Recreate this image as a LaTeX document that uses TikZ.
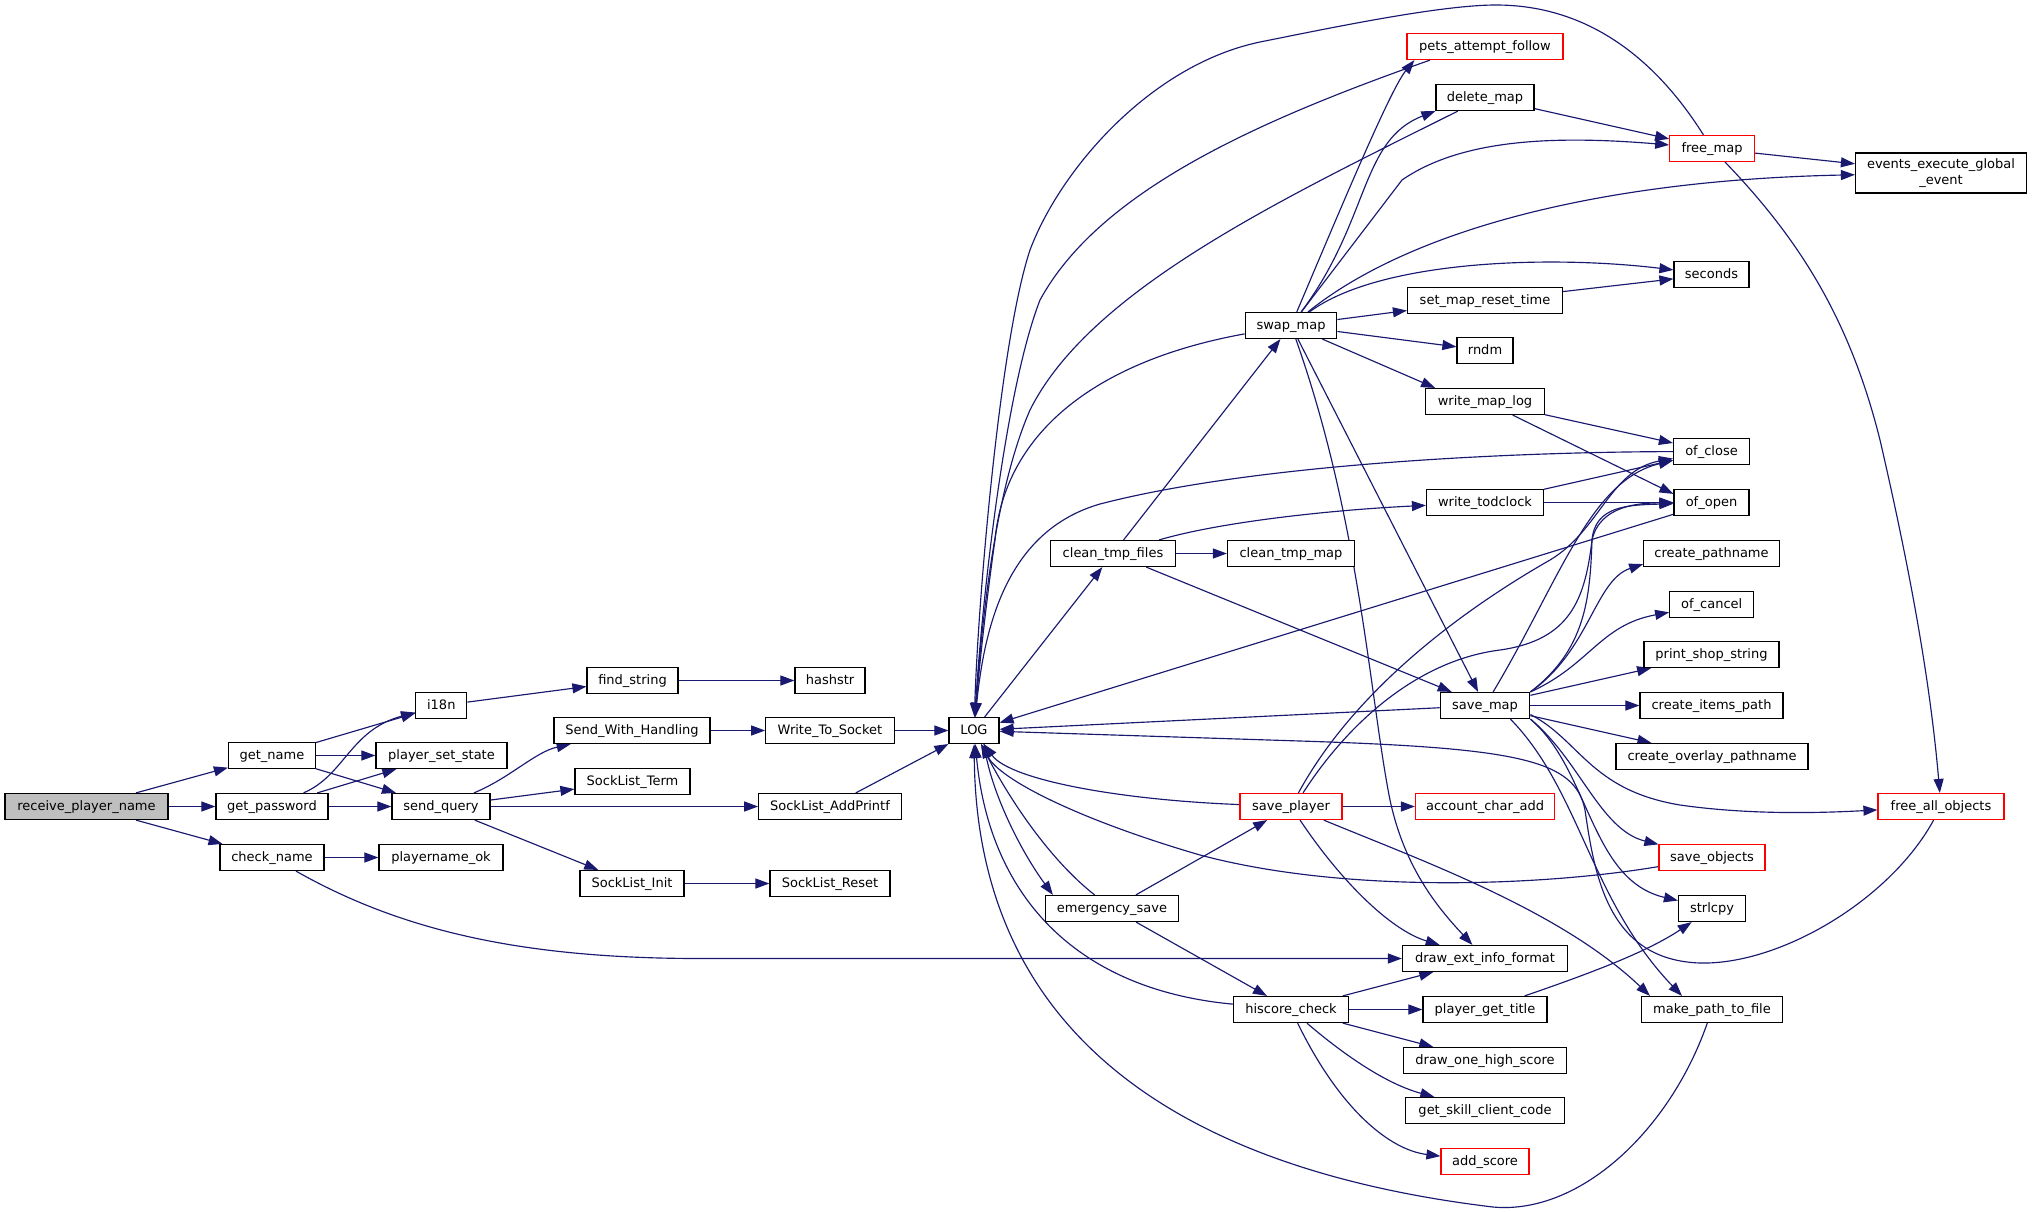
\documentclass[tikz,border=0pt]{standalone}
\usepackage{fontspec}
\setmainfont{DejaVu Sans}
\usetikzlibrary{arrows.meta,backgrounds}
\definecolor{edgec}{HTML}{191970}
\definecolor{rootfill}{HTML}{BFBFBF}
\tikzset{
  nd/.style={draw=black, line width=1.2pt, rectangle, inner sep=0pt, minimum height=26pt,
    font=\fontsize{13}{15.5}\selectfont, fill=white, text height=10pt, text depth=3pt},
  rnd/.style={nd, draw=red},
  edg/.style={draw=edgec, line width=1.15pt, -{Triangle[length=14pt,width=10pt]}}
}
\begin{document}
\begin{tikzpicture}[x=1pt,y=-1pt]
\useasboundingbox (0,0) rectangle (2032,1211);
% nodes
\node[nd, fill=rootfill, minimum width=163pt] (rpn) at (86.5,806.5) {receive\_player\_name};
\node[nd, minimum width=87pt] (getname) at (272,755.5) {get\_name};
\node[nd, minimum width=112pt] (getpw) at (272,806.5) {get\_password};
\node[nd, minimum width=104pt] (checkname) at (272,857.5) {check\_name};
\node[nd, minimum width=51pt] (ieighteen) at (441.3,705.5) {i18n};
\node[nd, minimum width=131pt] (pss) at (441.5,755.5) {player\_set\_state};
\node[nd, minimum width=98pt] (sendq) at (441,806.5) {send\_query};
\node[nd, minimum width=124pt] (pnok) at (441,857.5) {playername\_ok};
\node[nd, minimum width=91pt] (findstr) at (632.5,680.5) {find\_string};
\node[nd, minimum width=70pt] (hashstr) at (830,680.5) {hashstr};
\node[nd, minimum width=156pt] (swh) at (632,730.5) {Send\_With\_Handling};
\node[nd, minimum width=115pt] (slterm) at (632.5,781.5) {SockList\_Term};
\node[nd, minimum width=104pt] (slinit) at (632,883.5) {SockList\_Init};
\node[nd, minimum width=128.5pt] (wts) at (830,730.5) {Write\_To\_Socket};
\node[nd, minimum width=142.5pt] (sladd) at (830,806.5) {SockList\_AddPrintf};
\node[nd, minimum width=120pt] (slreset) at (830,883.5) {SockList\_Reset};
\node[nd, minimum width=50pt] (LOG) at (974,730.5) {LOG};
\node[nd, minimum width=124.5pt] (cleantmp) at (1113,553.5) {clean\_tmp\_files};
\node[nd, minimum width=127pt] (cleantmpmap) at (1291,553.5) {clean\_tmp\_map};
\node[nd, minimum width=133pt] (emerg) at (1112,908.5) {emergency\_save};
\node[nd, minimum width=91.5pt] (swap) at (1291,325.5) {swap\_map};
\node[rnd, minimum width=102pt] (saveplayer) at (1291,806.5) {save\_player};
\node[nd, minimum width=115pt] (hiscore) at (1291,1009.5) {hiscore\_check};
\node[rnd, minimum width=156pt] (pets) at (1485,46.5) {pets\_attempt\_follow};
\node[nd, minimum width=98pt] (delmap) at (1485,97.5) {delete\_map};
\node[nd, minimum width=155pt] (setreset) at (1485,300.5) {set\_map\_reset\_time};
\node[nd, minimum width=56pt] (rndm) at (1485,350.5) {rndm};
\node[nd, minimum width=118.6pt] (writemaplog) at (1485,401.5) {write\_map\_log};
\node[nd, minimum width=117pt] (writetod) at (1485,502.5) {write\_todclock};
\node[nd, minimum width=89.6pt] (savemap) at (1485,705.5) {save\_map};
\node[rnd, minimum width=139pt] (acctadd) at (1485,806.5) {account\_char\_add};
\node[nd, minimum width=165pt] (deif) at (1485,958.5) {draw\_ext\_info\_format};
\node[nd, minimum width=124pt] (pgt) at (1485,1009.5) {player\_get\_title};
\node[nd, minimum width=163pt] (dohs) at (1485,1060.5) {draw\_one\_high\_score};
\node[nd, minimum width=158.6pt] (gscc) at (1485,1110.5) {get\_skill\_client\_code};
\node[rnd, minimum width=88pt] (addscore) at (1485,1161.5) {add\_score};
\node[rnd, minimum width=84.5pt] (freemap) at (1712,148.5) {free\_map};
\node[nd, minimum width=75pt] (seconds) at (1711.5,274.5) {seconds};
\node[nd, minimum width=76pt] (ofclose) at (1711.5,451.5) {of\_close};
\node[nd, minimum width=75pt] (ofopen) at (1711.5,502.5) {of\_open};
\node[nd, minimum width=135.5pt] (createpath) at (1711.5,553.5) {create\_pathname};
\node[nd, minimum width=84pt] (ofcancel) at (1711.7,604.5) {of\_cancel};
\node[nd, minimum width=135pt] (pss2) at (1711.5,654.5) {print\_shop\_string};
\node[nd, minimum width=143pt] (cip) at (1711.5,705.5) {create\_items\_path};
\node[nd, minimum width=192pt] (cop) at (1712,756.5) {create\_overlay\_pathname};
\node[rnd, minimum width=106pt] (saveobj) at (1712,857.5) {save\_objects};
\node[nd, minimum width=67pt] (strlcpy) at (1712,908.5) {strlcpy};
\node[nd, minimum width=141.6pt] (mptf) at (1712,1009.5) {make\_path\_to\_file};
\node[draw=black, line width=1.2pt, rectangle, inner sep=0pt, fill=white, minimum width=171pt, minimum height=40pt,
  align=center, font=\fontsize{13}{15.5}\selectfont] (eeg) at (1941,173) {events\_execute\_global\\\_event};
\node[rnd, minimum width=126pt] (fao) at (1941,806.5) {free\_all\_objects};
% edges
\begin{scope}[on background layer]
\fill[white] (0,0) rectangle (2032,1211);
\draw[edg] (rpn) -- (getname);
\draw[edg] (rpn) -- (getpw);
\draw[edg] (rpn) -- (checkname);
\draw[edg] (getname) -- (ieighteen);
\draw[edg] (getname) -- (pss);
\draw[edg] (getname) -- (sendq);
\draw[edg] (getpw) .. controls (345,775) and (350,730) .. (ieighteen);
\draw[edg] (getpw) -- (pss);
\draw[edg] (getpw) -- (sendq);
\draw[edg] (checkname) -- (pnok);
\draw[edg] (checkname) .. controls (400,930) and (520,958.5) .. (700,958.5) -- (deif);
\draw[edg] (ieighteen) -- (findstr);
\draw[edg] (findstr) -- (hashstr);
\draw[edg] (sendq) .. controls (510,778) and (535,752) .. (swh);
\draw[edg] (sendq) -- (slterm);
\draw[edg] (sendq) -- (sladd);
\draw[edg] (sendq) -- (slinit);
\draw[edg] (swh) -- (wts);
\draw[edg] (slinit) -- (slreset);
\draw[edg] (wts) -- (LOG);
\draw[edg] (sladd) -- (LOG);
% LOG
\draw[edg] (LOG) -- (cleantmp);
\draw[edg] ([xshift=10pt]LOG.south) .. controls (990,790) and (1020,850) .. ([xshift=8pt]emerg.north west);
\draw[edg] (emerg) .. controls (1050,860) and (1010,800) .. (LOG);
\draw[edg] (swap) .. controls (1100,360) and (1005,430) .. (995,540) .. controls (985,610) and (978,680) .. (LOG);
\draw[edg] (delmap) .. controls (1280,200) and (1090,290) .. (1030,410) .. controls (995,490) and (982,620) .. (LOG);
\draw[edg] ([xshift=-55pt]pets.south) .. controls (1260,120) and (1100,190) .. (1040,300) .. controls (1005,390) and (982,600) .. (LOG);
\draw[edg] (freemap) .. controls (1650,50) and (1580,5) .. (1496,5) .. controls (1440,5) and (1330,28) .. (1260,42)
   .. controls (1150,65) and (1060,170) .. (1030,250) .. controls (1000,340) and (978,600) .. (LOG);
\draw[edg] (ofclose) .. controls (1500,452) and (1250,465) .. (1100,504) .. controls (1010,530) and (985,620) .. (LOG);
\draw[edg] (ofopen) -- (LOG);
\draw[edg] (savemap) -- (LOG);
\draw[edg] (fao) .. controls (1890,900) and (1780,965) .. (1700,963) .. controls (1610,960) and (1595,880) .. (1585,810)
   .. controls (1575,760) and (1520,748) .. (1300,741) -- (LOG);
\draw[edg] (saveobj) .. controls (1550,885) and (1350,895) .. (1200,855) .. controls (1080,820) and (1000,780) .. (LOG);
\draw[edg] (saveplayer) .. controls (1120,800) and (1010,780) .. (LOG);
\draw[edg] (hiscore) .. controls (1080,990) and (990,900) .. (LOG);
\draw[edg] (mptf) .. controls (1670,1130) and (1580,1215) .. (1493,1207) .. controls (1193,1171) and (977,1043) .. (LOG);
% clean_tmp_files
\draw[edg] (cleantmp) -- (swap);
\draw[edg] (cleantmp) .. controls (1220,522) and (1330,510) .. (writetod);
\draw[edg] (cleantmp) -- (cleantmpmap);
\draw[edg] (cleantmp) -- (savemap);
% swap_map
\draw[edg] (swap) .. controls (1340,210) and (1390,90) .. ([xshift=8pt]pets.south west);
\draw[edg] (swap) .. controls (1370,220) and (1360,140) .. (delmap.south west);
\draw[edg] (swap) -- (1402,180) .. controls (1460,140) and (1550,135) .. (freemap);
\draw[edg] (swap) .. controls (1410,230) and (1600,180) .. (eeg);
\draw[edg] (swap) .. controls (1380,260) and (1550,255) .. (seconds);
\draw[edg] (swap) -- (setreset);
\draw[edg] (swap) -- (rndm);
\draw[edg] (swap) -- ([xshift=10pt]writemaplog.north west);
\draw[edg] (swap) -- (savemap);
\draw[edg] (swap) .. controls (1360,520) and (1370,700) .. (1390,800) .. controls (1405,870) and (1440,910) .. (deif);
% maps
\draw[edg] (delmap) -- (freemap);
\draw[edg] (freemap) -- (eeg);
\draw[edg] (freemap) .. controls (1800,240) and (1850,320) .. (1880,440) .. controls (1910,570) and (1930,680) .. (fao);
\draw[edg] (setreset) -- (seconds);
\draw[edg] (writemaplog) -- (ofclose);
\draw[edg] (writemaplog) -- ([yshift=-5pt]ofopen.north west);
\draw[edg] (writetod) -- (ofclose);
\draw[edg] (writetod) -- (ofopen);
% save_map
\draw[edg] (savemap) .. controls (1560,580) and (1590,480) .. (ofclose);
\draw[edg] (savemap.north east) .. controls (1585,650) and (1590,600) .. (1592,540) .. controls (1595,505) and (1630,505) .. (ofopen);
\draw[edg] (savemap.north east) .. controls (1590,650) and (1595,580) .. ([yshift=3pt]createpath.south west);
\draw[edg] (savemap.north east) .. controls (1590,665) and (1600,625) .. (ofcancel);
\draw[edg] (savemap) -- (pss2);
\draw[edg] (savemap) -- (cip);
\draw[edg] (savemap) -- (cop);
\draw[edg] ([yshift=-9pt]savemap.east) .. controls (1580,740) and (1590,790) .. (1680,805) .. controls (1750,815) and (1820,813) .. (fao);
\draw[edg] (savemap.south east) .. controls (1580,760) and (1600,830) .. (saveobj);
\draw[edg] (savemap.south east) .. controls (1590,770) and (1590,880) .. (strlcpy);
\draw[edg] ([xshift=-20pt]savemap.south east) .. controls (1580,790) and (1590,900) .. ([xshift=-30pt]mptf.north);
% save_player
\draw[edg] (saveplayer) -- (acctadd);
\draw[edg] (saveplayer) .. controls (1340,880) and (1390,930) .. (deif);
\draw[edg] (saveplayer) .. controls (1420,860) and (1560,910) .. ([xshift=-62pt]mptf.north);
\draw[edg] (saveplayer) .. controls (1360,680) and (1480,600) .. (1550,560) .. controls (1600,530) and (1610,470) .. (ofclose);
\draw[edg] ([xshift=12pt]saveplayer.north) .. controls (1350,720) and (1420,660) .. (1500,650) .. controls (1570,640) and (1585,600) .. (1592,540)
   .. controls (1600,505) and (1640,503) .. (ofopen);
\draw[edg] (emerg) -- (saveplayer);
\draw[edg] (emerg) -- (hiscore);
% hiscore_check
\draw[edg] (hiscore) -- (deif);
\draw[edg] (hiscore) -- (pgt);
\draw[edg] (hiscore) -- (dohs);
\draw[edg] (hiscore) .. controls (1350,1060) and (1390,1085) .. (gscc);
\draw[edg] (hiscore) .. controls (1340,1110) and (1390,1150) .. (addscore);
\draw[edg] (pgt) .. controls (1600,970) and (1650,950) .. (strlcpy);
\end{scope}
\end{tikzpicture}
\end{document}
